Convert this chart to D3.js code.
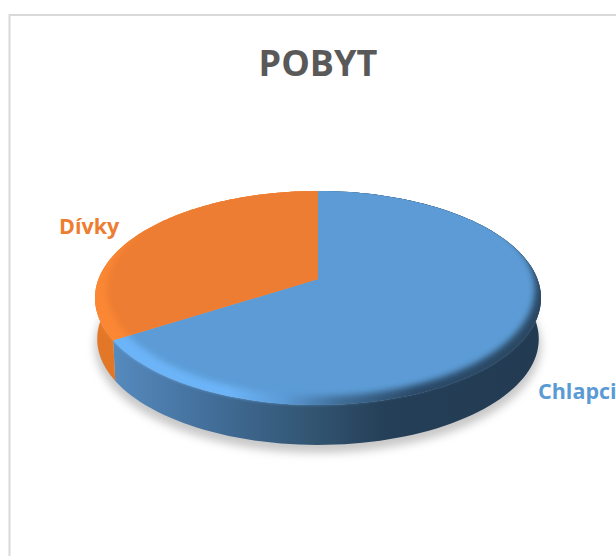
<!DOCTYPE html>
<html>
<head>
<meta charset="utf-8">
<script src="https://cdn.jsdelivr.net/npm/d3@7"></script>
<style>
  html, body { margin: 0; padding: 0; background: #fff; overflow: hidden; }
  text { font-family: "Open Sans", sans-serif; font-weight: 700; }
</style>
</head>
<body>
<div id="chart"></div>
<script>
// data
var chartTitle = "POBYT";
var categories = ["Chlapci", "Dívky"];
var values = [66, 34];

var width = 616, height = 556;

var topColors = {"Chlapci": "#5b9bd5", "Dívky": "#ed7d31"};
var rimColors = {"Chlapci": "url(#rimBlue)", "Dívky": "#fb8735"};
var sideColors = {"Chlapci": "url(#sideBlue)", "Dívky": "#e37728"};

// pie geometry: top ellipse, wall depth, and the tilt that moves the apex up
var cx = 318, cy = 298, rx = 223, ry = 107, depth = 41, tilt = -0.178;

var x = d3.scaleLinear().domain([-1, 1]).range([cx - rx, cx + rx]);
var y = d3.scaleLinear().domain([-1, 1]).range([cy - ry, cy + ry]);

var apex = [x(0), y(tilt)];

// project an angle (0 = up, clockwise) on the tilted disc
function rimPoint(a, r, dy) {
  var u = Math.sin(a), v = -Math.cos(a);
  var w = 1 + tilt * v;
  return [x(r * u * Math.sqrt(1 - tilt * tilt) / w), y(r * (v + tilt) / w) + dy];
}

function arcPoints(d, r, dy) {
  return d3.range(0, 121).map(function(i) {
    return rimPoint(d.startAngle + (d.endAngle - d.startAngle) * i / 120, r, dy);
  });
}

function wallPath(d) {
  // the bottom edge is a little narrower than the top one
  return line(arcPoints(d, 1, 0).concat(arcPoints(d, 0.99, depth).reverse())) + "Z";
}

var line = d3.line();

var svg = d3.select("#chart")
  .append("svg")
    .attr("width", width)
    .attr("height", height);

var defs = svg.append("defs");

function addGradient(id, stops) {
  var g = defs.append("linearGradient")
    .attr("id", id)
    .attr("gradientUnits", "userSpaceOnUse")
    .attr("x1", cx - rx).attr("x2", cx + rx)
    .attr("y1", 0).attr("y2", 0);
  stops.forEach(function(s) {
    g.append("stop").attr("offset", s[0]).attr("stop-color", s[1]);
  });
}
addGradient("sideBlue", [[0, "#5b93c8"], [0.06, "#5488bb"], [0.25, "#436f9b"], [0.5, "#31536f"], [0.65, "#253f58"], [1, "#223b52"]]);
addGradient("rimBlue", [[0, "#6cb4f8"], [0.3, "#6cb4f8"], [0.42, "#5c9cd8"], [0.55, "#3f6c96"], [0.72, "#2b4a68"], [1, "#2a4763"]]);

function addBlur(id, amount) {
  defs.append("filter").attr("id", id)
      .attr("x", "-20%").attr("y", "-20%").attr("width", "140%").attr("height", "140%")
    .append("feGaussianBlur").attr("stdDeviation", amount);
}
addBlur("blurShadow", 4);
addBlur("blurFace", 3);
addBlur("blurRim", 1.5);

// chart frame, runs off the right and bottom of the picture
svg.append("rect")
    .attr("x", 9.5).attr("y", 15)
    .attr("width", 700).attr("height", 700)
    .attr("fill", "#fff")
    .attr("stroke", "#d9d9d9")
    .attr("stroke-width", 2);

svg.append("text")
    .attr("x", 318).attr("y", 76)
    .attr("text-anchor", "middle")
    .attr("font-size", 36)
    .attr("fill", "#595959")
    .text(chartTitle);

// shadow under the pie
svg.append("ellipse")
    .attr("cx", cx).attr("cy", cy + depth + 7)
    .attr("rx", rx).attr("ry", ry)
    .attr("fill", "#c8c8c8")
    .attr("filter", "url(#blurShadow)");

var pie = d3.pie().sort(null).value(function(d) { return d; });
var slices = pie(values).map(function(d, i) {
  d.name = categories[i];
  return d;
});

// side walls
svg.selectAll(".wall")
  .data(slices)
  .enter()
  .append("path")
    .attr("class", "wall")
    .attr("fill", function(d) { return sideColors[d.name]; })
    .attr("d", wallPath);

// top faces: rim colour softened into the wall, flat face blurred over it
slices.forEach(function(d, i) {
  var outline = line([apex].concat(arcPoints(d, 1, 0))) + "Z";

  var clip = defs.append("clipPath").attr("id", "slice" + i);
  clip.append("path").attr("d", outline);

  var clipWall = defs.append("clipPath").attr("id", "sliceWall" + i);
  clipWall.append("path").attr("d", outline);
  clipWall.append("path").attr("d", wallPath(d));

  svg.append("path")
      .attr("d", outline)
      .attr("fill", rimColors[d.name]);

  svg.append("g").attr("clip-path", "url(#sliceWall" + i + ")")
    .append("ellipse")
      .attr("cx", cx).attr("cy", cy)
      .attr("rx", rx).attr("ry", ry)
      .attr("fill", rimColors[d.name])
      .attr("filter", "url(#blurRim)");

  svg.append("g").attr("clip-path", "url(#slice" + i + ")")
    .append("ellipse")
      .attr("cx", cx + 3).attr("cy", cy - 9)
      .attr("rx", rx - 9).attr("ry", ry)
      .attr("fill", topColors[d.name])
      .attr("filter", "url(#blurFace)");
});

// labels
var labelPos = {"Chlapci": [538, 399], "Dívky": [59, 234]};
svg.selectAll(".label")
  .data(slices)
  .enter()
  .append("text")
    .attr("class", "label")
    .attr("x", function(d) { return labelPos[d.name][0]; })
    .attr("y", function(d) { return labelPos[d.name][1]; })
    .attr("font-size", 21.5)
    .attr("fill", function(d) { return topColors[d.name]; })
    .text(function(d) { return d.name; });
</script>
</body>
</html>
